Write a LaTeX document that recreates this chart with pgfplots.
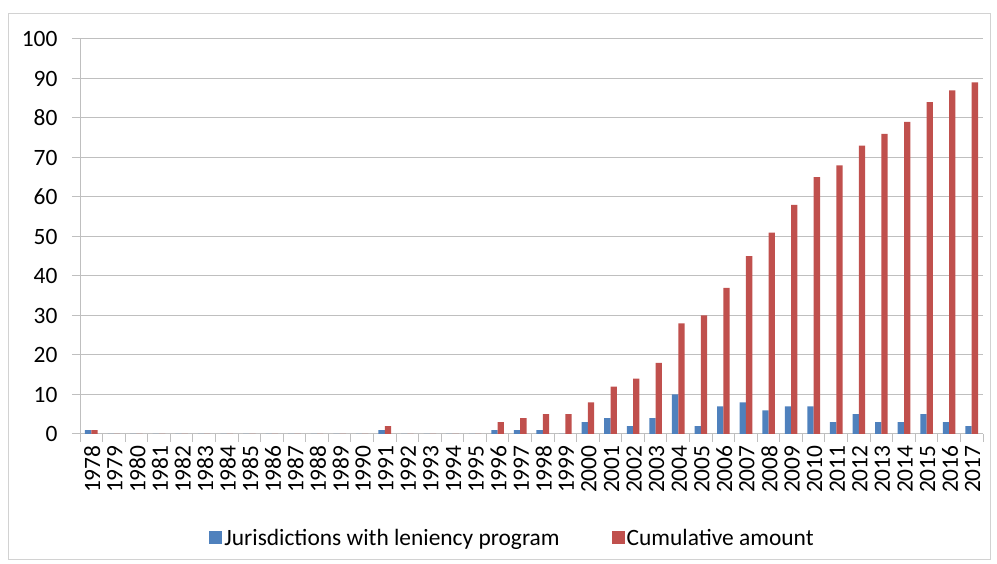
\documentclass[border=0pt]{standalone}
\usepackage{pgfplots}
\pgfplotsset{compat=1.18}
\usepackage{fontspec}
\setmainfont{Carlito}
\definecolor{xblue}{RGB}{79,129,189}
\definecolor{xred}{RGB}{192,80,77}
\definecolor{xgrid}{RGB}{191,191,191}
\begin{document}
\begin{tikzpicture}[x=1bp,y=1bp]
\path[use as bounding box] (0,0) rectangle (997,564);
\draw[xgrid!70,line width=0.8bp] (8,5) rectangle (990,551);
\begin{axis}[
  at={(80bp,130bp)}, anchor=south west,
  width=903bp, height=395bp, scale only axis,
  ybar, bar width=6.3bp, ybar=0pt,
  xmin=-0.5, xmax=39.5, ymin=0, ymax=100,
  ytick={0,10,...,100},
  xtick={0,...,39},
  xticklabels={1978,1979,1980,1981,1982,1983,1984,1985,1986,1987,1988,1989,1990,1991,1992,1993,1994,1995,1996,1997,1998,1999,2000,2001,2002,2003,2004,2005,2006,2007,2008,2009,2010,2011,2012,2013,2014,2015,2016,2017},
  minor xtick={-0.5,0.5,...,39.5},
  major x tick style={draw=none},
  minor tick length=8bp, major tick length=8bp,
  tick align=outside,
  axis lines*=left,
  axis line style={xgrid, line width=1bp},
  every tick/.style={xgrid, line width=1bp},
  ymajorgrids, grid style={xgrid, line width=1bp},
  /pgf/number format/assume math mode=true,
  tick label style={font=\fontsize{23.5}{28}\selectfont, black},
  xticklabel style={rotate=90, anchor=east, yshift=-1bp},
  yticklabel style={anchor=east, xshift=-11bp},
  legend style={at={(axis description cs:0.479,-0.263)}, anchor=center, draw=none,
    font=\fontsize{23.5}{28}\selectfont, legend columns=2,
    /tikz/every even column/.append style={column sep=50bp}},
  legend image code/.code={\fill[#1] (0bp,-6.5bp) rectangle (13bp,6.5bp);},
]
\addplot[fill=xblue, draw=none] coordinates {
(0,1)(1,0)(2,0)(3,0)(4,0)(5,0)(6,0)(7,0)(8,0)(9,0)(10,0)(11,0)(12,0)(13,1)(14,0)(15,0)(16,0)(17,0)(18,1)(19,1)(20,1)(21,0)(22,3)(23,4)(24,2)(25,4)(26,10)(27,2)(28,7)(29,8)(30,6)(31,7)(32,7)(33,3)(34,5)(35,3)(36,3)(37,5)(38,3)(39,2)};
\addlegendentry{Jurisdictions with leniency program}
\addplot[fill=xred, draw=none] coordinates {
(0,1)(1,0)(2,0)(3,0)(4,0)(5,0)(6,0)(7,0)(8,0)(9,0)(10,0)(11,0)(12,0)(13,2)(14,0)(15,0)(16,0)(17,0)(18,3)(19,4)(20,5)(21,5)(22,8)(23,12)(24,14)(25,18)(26,28)(27,30)(28,37)(29,45)(30,51)(31,58)(32,65)(33,68)(34,73)(35,76)(36,79)(37,84)(38,87)(39,89)};
\addlegendentry{Cumulative amount}
\end{axis}
\end{tikzpicture}
\end{document}
